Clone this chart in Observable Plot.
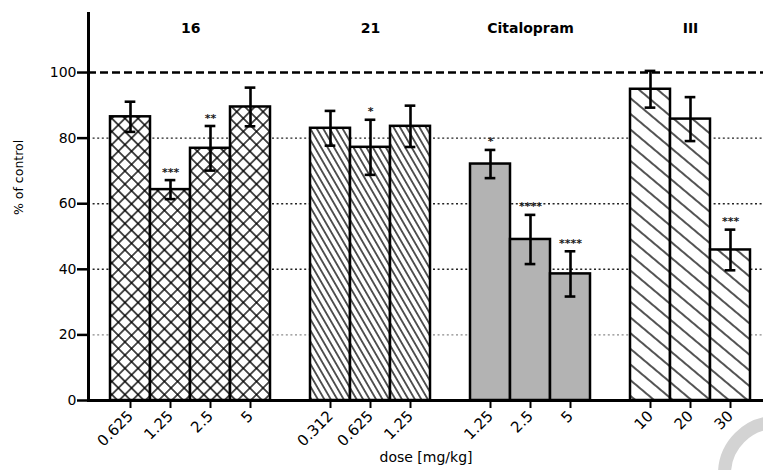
<!DOCTYPE html>
<html><head><meta charset="utf-8">
<script src="https://cdn.jsdelivr.net/npm/d3@7"></script>
<script src="https://cdn.jsdelivr.net/npm/@observablehq/plot@0.6"></script>
<style>
html,body{margin:0;padding:0;background:#fff;}
</style>
</head><body><div id="chart"></div>
<script>
// ---- data ----
const groups = ["16", "21", "Citalopram", "III"];
const doses = [["0.625", "1.25", "2.5", "5"], ["0.312", "0.625", "1.25"], ["1.25", "2.5", "5"], ["10", "20", "30"]];
const means = [[86.5, 64.3, 76.9, 89.5], [83.0, 77.2, 83.6], [72.1, 49.1, 38.6], [94.9, 85.8, 45.9]];
const sems = [[4.6, 2.9, 6.8, 5.9], [5.3, 8.4, 6.3], [4.3, 7.5, 6.9], [5.6, 6.7, 6.2]];
const stars = [["", "***", "**", ""], ["", "*", ""], ["*", "****", "****"], ["", "", "***"]];
const yTicks = [0, 20, 40, 60, 80, 100];
const gridValues = [20, 40, 60, 80];
const controlLevel = [100];

// ---- styles ----
const groupFill = {"16": "url(#pCross)", "21": "url(#pDense)", "Citalopram": "#b3b3b3", "III": "url(#pWide)"};
const FONT = "DejaVu Sans, Arial, sans-serif";

// ---- build table ----
const rows = [];
const slots = [];
groups.forEach((g, gi) => {
  if (gi > 0) slots.push("gap" + gi);
  doses[gi].forEach((d, di) => {
    const key = g + "|" + d;
    slots.push(key);
    rows.push({key, group: g, dose: d, mean: means[gi][di], lo: means[gi][di] - sems[gi][di], hi: means[gi][di] + sems[gi][di], sig: stars[gi][di], fill: groupFill[g]});
  });
});
const realKeys = rows.map(r => r.key);
const doseOf = Object.fromEntries(rows.map(r => [r.key, r.dose]));
const labelRows = groups.map((g, gi) => {
  const n = doses[gi].length;
  const idx = Math.floor((n - 1) / 2);
  return {key: g + "|" + doses[gi][idx], label: g, even: n % 2 === 0};
});

const xRange = [107, 752];
const band = (xRange[1] - xRange[0]) / slots.length;
const capInset = (band - 11) / 2;

const chart = Plot.plot({
  width: 763,
  height: 470,
  marginLeft: 88,
  marginRight: 0,
  marginTop: 13,
  marginBottom: 70,
  style: {fontFamily: FONT, fontSize: "14px", background: "#fff", color: "#000"},
  x: {type: "band", domain: slots, range: xRange, padding: 0, axis: null},
  y: {domain: [0, 118], axis: null},
  color: {type: "identity"},
  marks: [
    Plot.ruleY(gridValues, {stroke: d => d === 20 ? "#8a8a8a" : "#222", strokeWidth: 1.4, strokeDasharray: "2,2.6"}),
    Plot.barY(rows, {x: "key", y: "mean", fill: "fill", stroke: "#000", strokeWidth: 2.5}),
    Plot.ruleY(controlLevel, {stroke: "#000", strokeWidth: 2.6, strokeDasharray: "8,4"}),
    Plot.ruleX(rows, {x: "key", y1: "lo", y2: "hi", stroke: "#000", strokeWidth: 2.6}),
    Plot.tickY(rows, {x: "key", y: "hi", stroke: "#000", strokeWidth: 2.6, insetLeft: capInset, insetRight: capInset}),
    Plot.tickY(rows, {x: "key", y: "lo", stroke: "#000", strokeWidth: 2.6, insetLeft: capInset, insetRight: capInset}),
    Plot.text(rows.filter(r => r.sig), {x: "key", y: "hi", text: "sig", dy: -8, fontSize: 11, fill: "#1a1a1a", letterSpacing: "0.8px", fontWeight: "bold"}),
    Plot.text(labelRows.filter(r => r.even), {x: "key", text: "label", frameAnchor: "top", dy: 10, dx: band / 2, fontSize: 14, fontWeight: "bold"}),
    Plot.text(labelRows.filter(r => !r.even), {x: "key", text: "label", frameAnchor: "top", dy: 10, fontSize: 14, fontWeight: "bold"}),
    Plot.axisY({ticks: yTicks, tickSize: 11, tickPadding: 1, strokeWidth: 2.5, label: null, fontSize: 14}),
    Plot.axisX({ticks: realKeys, tickFormat: k => doseOf[k], tickSize: 8, tickPadding: 5, strokeWidth: 2, tickRotate: -45, label: null, fontSize: 15}),
    Plot.frame({anchor: "left", strokeWidth: 3}),
    Plot.ruleY([0], {stroke: "#000", strokeWidth: 3}),
    Plot.text(["dose [mg/kg]"], {frameAnchor: "bottom", dy: 61, fontSize: 14}),
    Plot.text(["% of control"], {frameAnchor: "left", dx: -70, dy: 8, rotate: -90, fontSize: 12.5})
  ]
});

// pattern definitions
const defs = `
<defs>
  <pattern id="pCross" patternUnits="userSpaceOnUse" width="9.3" height="9.3" patternTransform="rotate(45)">
    <rect width="9.3" height="9.3" fill="#fff"/>
    <path d="M4.65,0V9.3M0,4.65H9.3" stroke="#000" stroke-width="1.35"/>
  </pattern>
  <pattern id="pDense" patternUnits="userSpaceOnUse" width="5.6" height="10" patternTransform="rotate(-30)">
    <rect width="5.6" height="10" fill="#fff"/>
    <path d="M2.8,0V10" stroke="#000" stroke-width="1.3"/>
  </pattern>
  <pattern id="pWide" patternUnits="userSpaceOnUse" width="12" height="10" patternTransform="rotate(-50)">
    <rect width="12" height="10" fill="#fff"/>
    <path d="M6,0V10" stroke="#000" stroke-width="1.35"/>
  </pattern>
</defs>`;
chart.insertAdjacentHTML("afterbegin", defs);
// decorative watermark arc (bottom-right corner of the source image)
d3.select(chart).append("circle").attr("cx", 776).attr("cy", 474).attr("r", 51.5)
  .attr("fill", "none").attr("stroke", "#d3d3d3").attr("stroke-width", 13);
document.getElementById("chart").appendChild(chart);
</script>
</body></html>
